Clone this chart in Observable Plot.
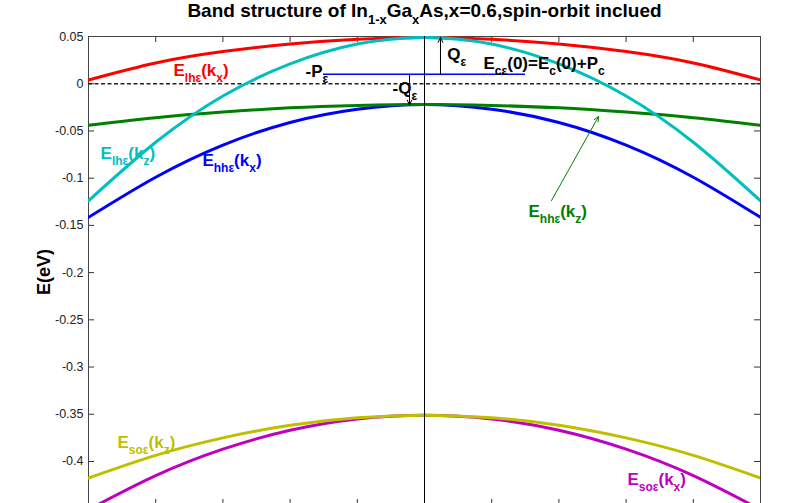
<!DOCTYPE html>
<html><head><meta charset="utf-8">
<script src="https://cdn.jsdelivr.net/npm/d3@7"></script>
<script src="https://cdn.jsdelivr.net/npm/@observablehq/plot@0.6"></script>
<style>body{margin:0;background:#fff;} #chart svg{display:block;}</style>
</head><body><div id="chart"></div>
<script>
// ---- data ----
const kx       = [-1, -0.8, -0.6, -0.4, -0.2, 0, 0.2, 0.4, 0.6, 0.8, 1];
const E_lh_kx  = [0.004, 0.022, 0.034, 0.042, 0.047, 0.049, 0.047, 0.042, 0.034, 0.022, 0.004];
const E_lh_kz  = [-0.124, -0.062, -0.013, 0.021, 0.042, 0.049, 0.042, 0.021, -0.013, -0.062, -0.124];
const E_hh_kz  = [-0.044, -0.036, -0.030, -0.0255, -0.023, -0.022, -0.023, -0.0255, -0.030, -0.036, -0.044];
const E_hh_kx  = [-0.1415, -0.099, -0.065, -0.041, -0.027, -0.022, -0.027, -0.041, -0.065, -0.099, -0.1415];
const E_so_kz  = [-0.4175, -0.3935, -0.375, -0.3616, -0.3537, -0.351, -0.3537, -0.3616, -0.375, -0.3935, -0.4175];
const E_so_kx  = [-0.451, -0.415, -0.387, -0.367, -0.355, -0.351, -0.355, -0.367, -0.387, -0.415, -0.451];

const yTicks = [-0.4, -0.35, -0.3, -0.25, -0.2, -0.15, -0.1, -0.05, 0, 0.05];
const xTicks = [-1, -0.8, -0.6, -0.4, -0.2, 0, 0.2, 0.4, 0.6, 0.8, 1];

const titleText = "Band structure of In_{1-x}Ga_{x}As,x=0.6,spin-orbit inclued";
const yLabel = "E(eV)";

// band labels
const labelText  = ["E_{lhε}(k_{x})", "E_{lhε}(k_{z})", "E_{hhε}(k_{x})", "E_{hhε}(k_{z})", "E_{soε}(k_{z})", "E_{soε}(k_{x})"];
const labelX     = [-0.747, -0.964, -0.661, 0.3095, -0.9137, 0.604];
const labelY     = [0.0082, -0.0792, -0.0873, -0.1413, -0.3859, -0.4244];
const labelColor = ["#ff0000", "#00bfbf", "#0000ff", "#008000", "#bfbf00", "#bf00bf"];

// energy-level annotations
const noteText = ["-P_{ε}", "-Q_{ε}", "Q_{ε}", "E_{cε}(0)=E_{c}(0)+P_{c}"];
const noteX    = [-0.354, -0.095, 0.068, 0.1756];
const noteY    = [0.0069, -0.0109, 0.0253, 0.0158];

// P line and arrows
const pLevel = 0.0101, pFrom = -0.3006, pTo = 0.3006;
const arrowX1 = [0.0476, -0.0446, 0.378];
const arrowY1 = [0.0101, 0.0101, -0.1237];
const arrowX2 = [0.0476, -0.0446, 0.518];
const arrowY2 = [0.049, -0.0225, -0.0347];
const arrowColor = ["#000000", "#000000", "#008000"];

// ---- layout ----
const W = 800, H = 503, mL = 88, mR = 40, mT = 36, mB = 0;
const fw = W - mL - mR, fh = H - mT - mB;
const font = "Liberation Sans, Arial, Helvetica, sans-serif";

const series = (arr) => kx.map((k, i) => ({k, E: arr[i]}));
const labels = labelText.map((t, i) => ({t, x: labelX[i], y: labelY[i], c: labelColor[i]}));
const notes = noteText.map((t, i) => ({t, x: noteX[i], y: noteY[i]}));
const arrows = arrowX1.map((_, i) => ({x1: arrowX1[i], y1: arrowY1[i], x2: arrowX2[i], y2: arrowY2[i], c: arrowColor[i]}));

const band = (arr, color) => Plot.line(series(arr), {x: "k", y: "E", stroke: color, strokeWidth: 3, curve: "natural", clip: true});

const svg = Plot.plot({
  width: W, height: H,
  marginLeft: mL, marginRight: mR, marginTop: mT, marginBottom: mB,
  style: {fontFamily: font, fontSize: "12px", background: "#fff", overflow: "visible"},
  x: {domain: [-1, 1], axis: null},
  y: {domain: [-0.4445, 0.05], axis: null},
  color: {type: "identity"},
  marks: [
    // inward ticks on all four sides
    Plot.tickY(yTicks, {y: d => d, insetRight: fw - 6, stroke: "#333"}),
    Plot.tickY(yTicks, {y: d => d, insetLeft: fw - 6, stroke: "#333"}),
    Plot.tickX(xTicks, {x: d => d, insetBottom: fh - 6, stroke: "#333"}),
    Plot.tickX(xTicks, {x: d => d, insetTop: fh - 4, stroke: "#333"}),
    Plot.axisY(yTicks, {tickSize: 0, tickPadding: 5, tickFormat: d => String(Math.round(d * 100) / 100), label: null, fill: "#222", fontSize: 12.5}),
    Plot.frame({stroke: "#444", strokeWidth: 1}),
    Plot.ruleY([0], {stroke: "#222", strokeWidth: 1.5, strokeDasharray: "4,2.5"}),
    // labels under the curves
    Plot.text(labels, {x: "x", y: "y", text: "t", fill: "c", textAnchor: "start", lineAnchor: "bottom", fontSize: 17, fontWeight: "bold"}),
    band(E_so_kx, "#bf00bf"),
    band(E_so_kz, "#bfbf00"),
    band(E_hh_kx, "#0000ff"),
    band(E_hh_kz, "#008000"),
    band(E_lh_kx, "#ff0000"),
    band(E_lh_kz, "#00bfbf"),
    Plot.ruleX([0], {stroke: "#000", strokeWidth: 1}),
    Plot.ruleY([pLevel], {x1: pFrom, x2: pTo, stroke: "#0000ff", strokeWidth: 1.5}),
    Plot.arrow(arrows, {x1: "x1", y1: "y1", x2: "x2", y2: "y2", stroke: "c", strokeWidth: 1, headLength: 8, headAngle: 50}),
    Plot.text(notes, {x: "x", y: "y", text: "t", fill: "#000", textAnchor: "start", lineAnchor: "bottom", fontSize: 17, fontWeight: "bold"}),
    // title and y label
    Plot.text([titleText], {text: d => d, frameAnchor: "top", dy: -20, lineAnchor: "bottom", textAnchor: "middle", fontSize: 19, fontWeight: "bold", fill: "#000"}),
    Plot.text([yLabel], {text: d => d, frameAnchor: "left", dx: -39, dy: 2, rotate: -90, lineAnchor: "bottom", textAnchor: "middle", fontSize: 18, fontWeight: "bold", fill: "#000"})
  ]
});
document.getElementById("chart").appendChild(svg);

// turn _{...} markup into subscript tspans
const NS = "http://www.w3.org/2000/svg";
d3.select(svg).selectAll("text").each(function () {
  const s = this.textContent;
  if (!s.includes("_{")) return;
  const fs = parseFloat(getComputedStyle(this).fontSize) || 16;
  const subFs = Math.round(fs * 0.7);
  const off = Math.round(fs * 0.35);
  while (this.firstChild) this.removeChild(this.firstChild);
  let shifted = false;
  for (const p of s.split(/(_\{[^}]*\})/)) {
    if (!p) continue;
    const t = document.createElementNS(NS, "tspan");
    if (p.startsWith("_{")) {
      t.textContent = p.slice(2, -1);
      t.setAttribute("font-size", subFs);
      t.setAttribute("dy", shifted ? 0 : off);
      shifted = true;
    } else {
      t.textContent = p;
      if (shifted) { t.setAttribute("dy", -off); shifted = false; }
    }
    this.appendChild(t);
  }
});
</script>
</body></html>
